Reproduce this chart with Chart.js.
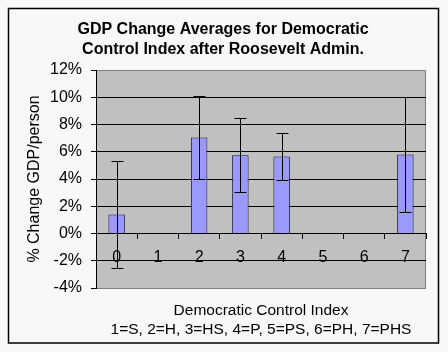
<!DOCTYPE html>
<html>
<head>
<meta charset="utf-8">
<script src="https://cdn.jsdelivr.net/npm/chart.js@4"></script>
<style>
  html, body { margin: 0; padding: 0; background: #f8f8f8; }
</style>
</head>
<body>
<canvas id="chart" width="448" height="352"></canvas>
<script>
const categories = ["0", "1", "2", "3", "4", "5", "6", "7"];
const averages = [1.4, null, 7.05, 5.75, 5.65, null, null, 5.8];
const errors = [3.9, null, 3.05, 2.72, 1.73, null, null, 4.2];
const yMin = -4, yMax = 12, yStep = 2;

const titleLines = ["GDP Change Averages for Democratic", "Control Index after Roosevelt Admin."];
const yTitle = "% Change GDP/person";
const xTitleLines = ["Democratic Control Index", "1=S, 2=H, 3=HS, 4=P, 5=PS, 6=PH, 7=PHS"];

const FONT = "'Liberation Sans', Arial, sans-serif";

// background, outer frame and grey plot area
const frame = {
  id: "frame",
  beforeDraw(chart) {
    const ctx = chart.ctx, a = chart.chartArea;
    ctx.save();
    ctx.fillStyle = "#f8f8f8";
    ctx.fillRect(0, 0, chart.width, chart.height);
    ctx.strokeStyle = "#000";
    ctx.lineWidth = 1.5;
    ctx.strokeRect(8.5, 8.5, 430, 334.5);
    ctx.fillStyle = "#c0c0c0";
    ctx.fillRect(a.left, a.top, a.right - a.left, a.bottom - a.top);
    ctx.strokeStyle = "#808080";
    ctx.lineWidth = 1;
    ctx.strokeRect(a.left + 0.5, a.top + 0.5, a.right - a.left - 1, a.bottom - a.top);
    ctx.restore();
  }
};

// error bars from the averages and errors arrays
const errorBars = {
  id: "errorBars",
  afterDatasetsDraw(chart) {
    const ctx = chart.ctx, y = chart.scales.y;
    const meta = chart.getDatasetMeta(0);
    ctx.save();
    ctx.strokeStyle = "#000";
    ctx.lineWidth = 1;
    averages.forEach((v, i) => {
      if (v === null) return;
      const x = Math.round(meta.data[i].x) + 0.5;
      const hi = Math.round(y.getPixelForValue(v + errors[i])) + 0.5;
      const lo = Math.round(y.getPixelForValue(v - errors[i])) + 0.5;
      ctx.beginPath();
      ctx.moveTo(x, hi); ctx.lineTo(x, lo);
      ctx.moveTo(x - 6, hi); ctx.lineTo(x + 6, hi);
      ctx.moveTo(x - 6, lo); ctx.lineTo(x + 6, lo);
      ctx.stroke();
    });
    ctx.restore();
  }
};

// chart title and axis titles
const texts = {
  id: "texts",
  afterDraw(chart) {
    const ctx = chart.ctx, a = chart.chartArea;
    ctx.save();
    ctx.fillStyle = "#000";
    ctx.textAlign = "center";
    ctx.textBaseline = "middle";
    ctx.font = "bold 16px " + FONT;
    ctx.fillText(titleLines[0], 223, 30);
    ctx.fillText(titleLines[1], 223, 50);
    ctx.font = "15.5px " + FONT;
    const cx = (a.left + a.right) / 2;
    ctx.fillText(xTitleLines[0], cx, 311);
    ctx.fillText(xTitleLines[1], cx, 330);
    ctx.font = "16px " + FONT;
    ctx.translate(35, (a.top + a.bottom) / 2);
    ctx.rotate(-Math.PI / 2);
    ctx.fillText(yTitle, 0, 0);
    ctx.restore();
  }
};

new Chart(document.getElementById("chart"), {
  type: "bar",
  data: {
    labels: categories,
    datasets: [{
      data: averages,
      backgroundColor: "#9999ff",
      borderColor: "#1a1a40",
      borderWidth: 1,
      categoryPercentage: 1,
      barPercentage: 0.4
    }]
  },
  options: {
    responsive: false,
    animation: false,
    devicePixelRatio: 1,
    layout: { padding: { left: 0, right: 22, top: 70, bottom: 64 } },
    plugins: {
      legend: { display: false },
      title: { display: false },
      tooltip: { enabled: false }
    },
    scales: {
      x: {
        position: { y: 0 },
        offset: true,
        grid: { offset: true, drawOnChartArea: false, tickLength: 5, color: "#000" },
        border: { color: "#000" },
        ticks: { color: "#000", font: { family: FONT, size: 16 }, padding: 9, maxRotation: 0 }
      },
      y: {
        min: yMin,
        max: yMax,
        afterFit(scale) { scale.width = 96; },
        grid: {
          color: (c) => (c.tick && (c.tick.value === yMin || c.tick.value === yMax)) ? "rgba(0,0,0,0)" : "#000",
          tickColor: "#000",
          tickLength: 5
        },
        border: { color: "#000" },
        ticks: {
          stepSize: yStep,
          padding: 9,
          color: "#000",
          font: { family: FONT, size: 16 },
          callback: (v) => v + "%"
        }
      }
    }
  },
  plugins: [frame, errorBars, texts]
});
</script>
</body>
</html>
